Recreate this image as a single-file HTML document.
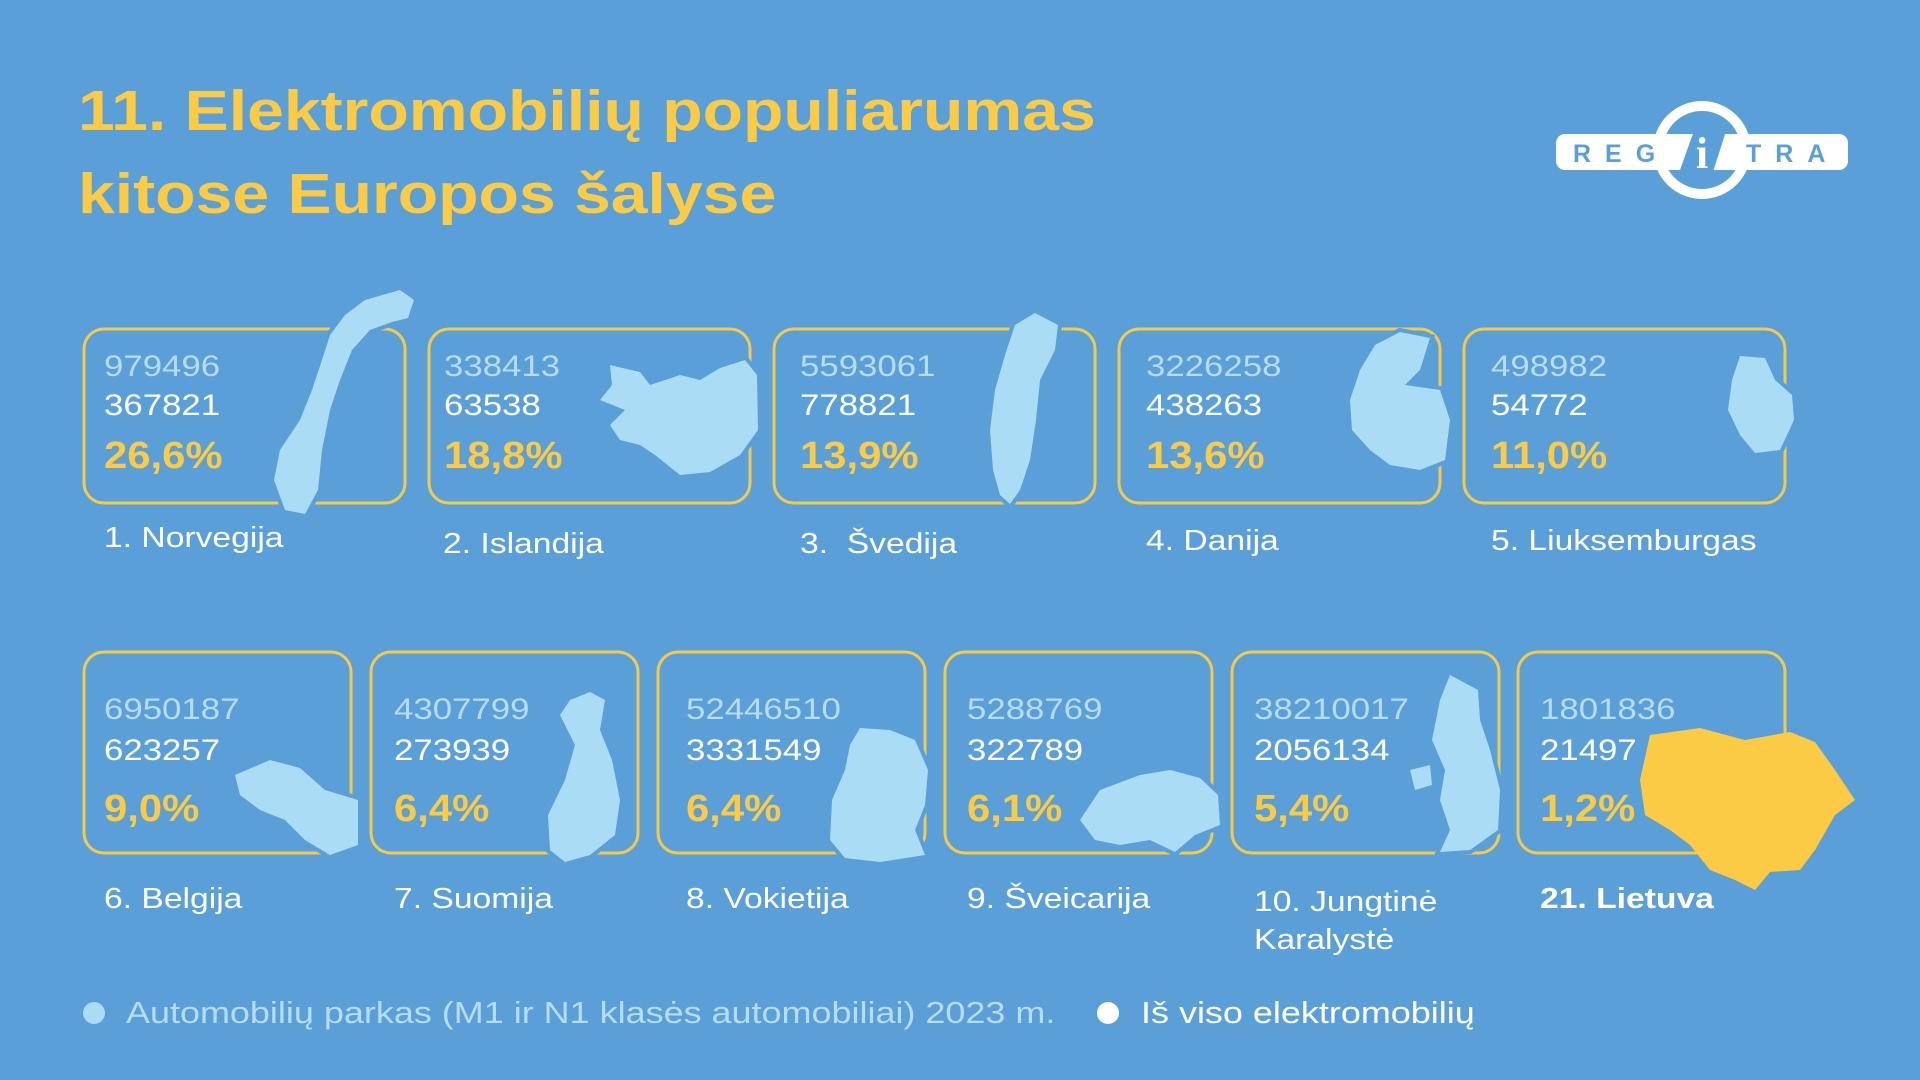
<!DOCTYPE html>
<html><head><meta charset="utf-8"><style>
html,body{margin:0;padding:0}
body{width:1920px;height:1080px;background:#5a9fd7;position:relative;overflow:hidden;font-family:"Liberation Sans",sans-serif}
.t{position:absolute;white-space:nowrap;transform:scaleX(1.16);transform-origin:0 0}
.title{left:78px;color:#fbcb45;font-weight:bold;font-size:57px;line-height:1}
.g{color:#b7dcf3;font-size:30px}
.w{color:#fff;font-size:30px}
.p{color:#fbcb45;font-size:38px;font-weight:bold;transform:scaleX(1.1)}
.l{color:#fff;font-size:29px}
</style></head><body>
<svg width="1920" height="1080" style="position:absolute;left:0;top:0">
<g fill="none" stroke="#f5c94a" stroke-width="3">
<rect x="84" y="329" width="321" height="174" rx="20"/>
<rect x="429" y="329" width="321" height="174" rx="20"/>
<rect x="774" y="329" width="321" height="174" rx="20"/>
<rect x="1119" y="329" width="321" height="174" rx="20"/>
<rect x="1464" y="329" width="321" height="174" rx="20"/>
<rect x="84" y="652" width="267" height="201" rx="20"/>
<rect x="371" y="652" width="267" height="201" rx="20"/>
<rect x="658" y="652" width="267" height="201" rx="20"/>
<rect x="945" y="652" width="267" height="201" rx="20"/>
<rect x="1232" y="652" width="267" height="201" rx="20"/>
<rect x="1518" y="652" width="267" height="201" rx="20"/>
</g>
<g fill="#aadcf6" stroke="#5a9fd7" stroke-width="8" paint-order="stroke">
<path d="M400 290 L414 300 L408 318 L392 322 L370 330 L352 350 L340 380 L330 410 L322 450 L318 490 L305 514 L285 510 L274 480 L280 450 L300 420 L312 390 L322 360 L330 335 L345 315 L365 300 Z"/>
<path d="M610 365 L640 372 L650 385 L680 375 L700 380 L720 368 L745 360 L757 375 L758 430 L740 455 L710 472 L680 475 L655 455 L640 445 L620 440 L610 425 L625 410 L600 400 L612 385 Z"/>
<path d="M1035 313 L1058 325 L1055 350 L1040 380 L1036 420 L1030 460 L1020 490 L1010 504 L1000 495 L993 470 L990 430 L995 390 L1005 355 L1015 325 Z"/>
<path d="M1400 332 L1430 338 L1420 370 L1405 385 L1440 390 L1450 420 L1445 460 L1420 470 L1390 465 L1370 450 L1352 430 L1350 400 L1360 370 L1375 345 Z"/>
<path d="M1740 356 L1765 358 L1775 380 L1792 395 L1794 420 L1780 450 L1755 453 L1740 435 L1728 410 L1732 380 Z"/>
<path d="M235 775 L270 760 L300 768 L325 790 L358 800 L358 845 L330 855 L305 840 L285 820 L260 810 L240 795 Z"/>
<path d="M590 692 L605 700 L600 730 L612 760 L620 800 L615 835 L590 855 L565 862 L550 850 L548 815 L565 780 L575 745 L560 715 L570 700 Z"/>
<path d="M860 728 L890 730 L915 740 L928 770 L925 805 L915 830 L925 855 L880 862 L845 858 L830 840 L832 800 L845 770 L850 745 Z"/>
<path d="M1100 790 L1140 775 L1170 770 L1200 778 L1218 795 L1220 825 L1195 835 L1175 852 L1150 840 L1120 845 L1095 840 L1080 820 Z"/>
<path d="M1450 675 L1478 690 L1480 720 L1490 750 L1500 790 L1498 830 L1470 850 L1440 852 L1450 830 L1440 800 L1445 770 L1432 740 L1440 700 Z M1410 770 L1430 765 L1432 785 L1415 790 Z"/>
</g>
<path fill="#fbcb45" d="M1650 735 L1700 728 L1745 740 L1790 732 L1815 742 L1835 770 L1855 800 L1835 815 L1815 850 L1800 870 L1770 872 L1755 890 L1735 880 L1710 870 L1690 845 L1670 830 L1645 815 L1640 780 Z"/>
<circle cx="94" cy="1013" r="11" fill="#aadcf6"/>
<circle cx="1108" cy="1013" r="11" fill="#fff"/>
<rect x="1556" y="134" width="292" height="36" rx="9" fill="#fff"/>
<circle cx="1702" cy="150" r="44" fill="none" stroke="#fff" stroke-width="10"/>
<path d="M1680 170 L1696 125 L1728 125 L1712 175 Z" fill="#5a9fd7"/>
<text x="1702" y="168" text-anchor="middle" font-family="Liberation Serif" font-weight="bold" font-size="44" fill="#fff">i</text>
<text x="1573" y="162" font-family="Liberation Sans" font-weight="bold" font-size="25" fill="#5a9fd7" letter-spacing="14">REG</text>
<text x="1746" y="162" font-family="Liberation Sans" font-weight="bold" font-size="25" fill="#5a9fd7" letter-spacing="14">TRA</text>
</svg>

<div class="t title" style="top:83px">11. Elektromobilių populiarumas</div>
<div class="t title" style="top:166px">kitose Europos šalyse</div>

<div class="t g" style="left:104px;top:350px">979496</div><div class="t w" style="left:104px;top:389px">367821</div><div class="t p" style="left:104px;top:435px">26,6%</div>
<div class="t g" style="left:444px;top:350px">338413</div><div class="t w" style="left:444px;top:389px">63538</div><div class="t p" style="left:444px;top:435px">18,8%</div>
<div class="t g" style="left:800px;top:350px">5593061</div><div class="t w" style="left:800px;top:389px">778821</div><div class="t p" style="left:800px;top:435px">13,9%</div>
<div class="t g" style="left:1146px;top:350px">3226258</div><div class="t w" style="left:1146px;top:389px">438263</div><div class="t p" style="left:1146px;top:435px">13,6%</div>
<div class="t g" style="left:1491px;top:350px">498982</div><div class="t w" style="left:1491px;top:389px">54772</div><div class="t p" style="left:1491px;top:435px">11,0%</div>

<div class="t l" style="left:104px;top:522px">1. Norvegija</div>
<div class="t l" style="left:443px;top:528px">2. Islandija</div>
<div class="t l" style="left:800px;top:528px">3.&nbsp; Švedija</div>
<div class="t l" style="left:1146px;top:525px">4. Danija</div>
<div class="t l" style="left:1491px;top:525px">5. Liuksemburgas</div>

<div class="t g" style="left:104px;top:693px">6950187</div><div class="t w" style="left:104px;top:734px">623257</div><div class="t p" style="left:104px;top:788px">9,0%</div>
<div class="t g" style="left:394px;top:693px">4307799</div><div class="t w" style="left:394px;top:734px">273939</div><div class="t p" style="left:394px;top:788px">6,4%</div>
<div class="t g" style="left:686px;top:693px">52446510</div><div class="t w" style="left:686px;top:734px">3331549</div><div class="t p" style="left:686px;top:788px">6,4%</div>
<div class="t g" style="left:967px;top:693px">5288769</div><div class="t w" style="left:967px;top:734px">322789</div><div class="t p" style="left:967px;top:788px">6,1%</div>
<div class="t g" style="left:1254px;top:693px">38210017</div><div class="t w" style="left:1254px;top:734px">2056134</div><div class="t p" style="left:1254px;top:788px">5,4%</div>
<div class="t g" style="left:1540px;top:693px">1801836</div><div class="t w" style="left:1540px;top:734px">21497</div><div class="t p" style="left:1540px;top:788px">1,2%</div>

<div class="t l" style="left:104px;top:883px">6. Belgija</div>
<div class="t l" style="left:394px;top:883px">7. Suomija</div>
<div class="t l" style="left:686px;top:883px">8. Vokietija</div>
<div class="t l" style="left:967px;top:883px">9. Šveicarija</div>
<div class="t l" style="left:1254px;top:883px;line-height:38px">10. Jungtinė<br>Karalystė</div>
<div class="t l" style="left:1540px;top:883px;font-weight:bold">21. Lietuva</div>

<div class="t" style="left:126px;top:995px;font-size:31px;color:#b7dcf3">Automobilių parkas (M1 ir N1 klasės automobiliai) 2023 m.</div>
<div class="t" style="left:1141px;top:995px;font-size:31px;color:#fff">Iš viso elektromobilių</div>
</body></html>
